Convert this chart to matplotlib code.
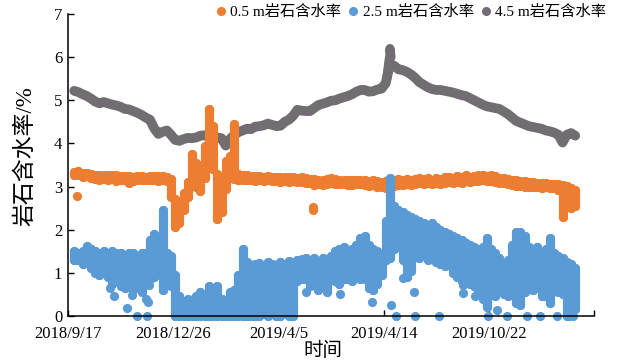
import numpy as np
import matplotlib.pyplot as plt
from matplotlib.lines import Line2D

plt.rcParams['font.family'] = ['Liberation Serif', 'Noto Sans CJK SC']

# days since 2018/9/17, one reading group every 4 days
days = np.arange(6, 483, 4)

tick_days = [0, 100, 200, 300, 400, 500]
tick_labels = ['2018/9/17', '2018/12/26', '2019/4/5', '2019/4/14', '2019/10/22', '']

# 4.5 m
gray_vals = [
    5.22, 5.19, 5.14, 5.10, 5.04, 4.97, 4.93, 4.96, 4.93, 4.90,
    4.88, 4.85, 4.80, 4.79, 4.75, 4.71, 4.66, 4.60, 4.55, 4.35,
    4.22, 4.27, 4.30, 4.20, 4.08, 4.06, 4.10, 4.13, 4.12, 4.14,
    4.18, 4.19, 4.15, 4.18, 4.14, 4.12, 3.95, 4.10, 4.20, 4.26,
    4.30, 4.34, 4.33, 4.39, 4.40, 4.42, 4.46, 4.43, 4.40, 4.41,
    4.50, 4.55, 4.64, 4.78, 4.76, 4.75, 4.75, 4.82, 4.89, 4.92,
    4.95, 4.99, 5.00, 5.04, 5.07, 5.10, 5.14, 5.20, 5.24, 5.24,
    5.20, 5.21, 5.25, 5.27, 5.40, 5.85, 5.80, 5.72, 5.70, 5.66,
    5.60, 5.52, 5.42, 5.36, 5.30, 5.26, 5.24, 5.24, 5.22, 5.20,
    5.18, 5.15, 5.12, 5.10, 5.05, 5.00, 4.95, 4.90, 4.86, 4.84,
    4.82, 4.80, 4.74, 4.68, 4.60, 4.52, 4.48, 4.44, 4.40, 4.38,
    4.36, 4.34, 4.30, 4.28, 4.25, 4.20, 4.02, 4.20, 4.24, 4.18,
]
gray_spike_days = [303, 304, 305, 306, 306, 307]
gray_spike_vals = [5.50, 5.70, 5.90, 6.05, 6.20, 6.00]

# 0.5 m, daily low / high
orange_lo = [
    3.26, 3.26, 3.23, 3.24, 3.20, 3.18, 3.16, 3.18, 3.16, 3.18,
    3.13, 3.14, 3.16, 3.08, 3.13, 3.14, 3.16, 3.14, 3.16, 3.14,
    3.13, 3.14, 3.12, 2.75, 2.05, 2.15, 2.45, 2.75, 3.20, 3.00,
    2.90, 3.20, 3.80, 3.40, 2.25, 2.40, 2.95, 3.20, 3.18, 3.16,
    3.16, 3.14, 3.16, 3.13, 3.14, 3.12, 3.14, 3.13, 3.12, 3.10,
    3.12, 3.10, 3.12, 3.10, 3.10, 3.08, 3.08, 3.04, 3.06, 3.04,
    3.06, 3.08, 3.06, 3.06, 3.05, 3.04, 3.04, 3.06, 3.05, 3.04,
    3.02, 3.04, 3.00, 2.98, 2.96, 2.98, 3.02, 3.04, 3.03, 3.06,
    3.04, 3.06, 3.08, 3.06, 3.08, 3.06, 3.08, 3.06, 3.08, 3.10,
    3.08, 3.10, 3.08, 3.12, 3.10, 3.12, 3.13, 3.14, 3.12, 3.13,
    3.10, 3.08, 3.08, 3.06, 3.04, 3.02, 3.02, 3.00, 3.00, 2.98,
    2.98, 2.96, 2.98, 2.96, 2.96, 2.93, 2.30, 2.80, 2.50, 2.55,
]
orange_hi = [
    3.34, 3.36, 3.32, 3.32, 3.30, 3.27, 3.26, 3.26, 3.27, 3.26,
    3.27, 3.24, 3.24, 3.24, 3.22, 3.24, 3.24, 3.22, 3.24, 3.24,
    3.24, 3.24, 3.22, 3.18, 2.70, 2.60, 2.85, 3.10, 3.75, 3.55,
    3.30, 3.95, 4.80, 4.40, 3.30, 3.15, 3.60, 3.70, 4.45, 3.30,
    3.26, 3.26, 3.24, 3.24, 3.24, 3.22, 3.24, 3.22, 3.22, 3.22,
    3.22, 3.22, 3.22, 3.20, 3.22, 3.20, 3.18, 3.18, 3.16, 3.16,
    3.18, 3.20, 3.18, 3.16, 3.16, 3.14, 3.14, 3.16, 3.16, 3.16,
    3.12, 3.14, 3.12, 3.10, 3.12, 3.14, 3.16, 3.18, 3.16, 3.18,
    3.16, 3.18, 3.20, 3.18, 3.20, 3.16, 3.20, 3.18, 3.22, 3.22,
    3.20, 3.24, 3.22, 3.26, 3.22, 3.24, 3.26, 3.26, 3.24, 3.26,
    3.24, 3.20, 3.20, 3.18, 3.16, 3.14, 3.12, 3.12, 3.10, 3.10,
    3.08, 3.08, 3.08, 3.07, 3.06, 3.06, 3.04, 3.02, 2.97, 2.92,
]
orange_out_days = [9, 233, 233]
orange_out_vals = [2.77, 2.52, 2.46]

# 2.5 m, daily low / high
blue_lo = [
    1.30, 1.30, 1.20, 1.25, 1.10, 1.00, 0.95, 1.00, 0.90, 0.75,
    0.80, 0.70, 0.65, 0.70, 0.60, 0.75, 0.55, 0.80, 0.85, 0.90,
    1.00, 0.60, 0.85, 0.70, 0.00, 0.00, 0.00, 0.00, 0.00, 0.00,
    0.00, 0.00, 0.00, 0.00, 0.00, 0.00, 0.00, 0.00, 0.00, 0.00,
    0.00, 0.00, 0.00, 0.00, 0.00, 0.05, 0.00, 0.10, 0.00, 0.00,
    0.10, 0.00, 0.00, 0.80, 0.85, 0.85, 0.70, 0.80, 0.60, 0.75,
    0.55, 0.85, 0.80, 0.75, 0.85, 0.85, 0.80, 0.90, 0.85, 0.85,
    0.65, 0.60, 0.75, 0.95, 1.30, 1.35, 1.55, 1.60, 1.30, 0.90,
    1.05, 1.40, 1.35, 1.40, 1.30, 1.35, 1.25, 1.20, 1.15, 1.20,
    1.00, 0.90, 0.80, 0.85, 0.75, 0.70, 0.55, 0.40, 0.20, 0.50,
    0.45, 0.60, 0.50, 0.45, 0.55, 0.30, 0.25, 0.55, 0.70, 0.60,
    0.80, 0.45, 0.60, 0.30, 0.65, 0.55, 0.50, 0.00, 0.10, 0.15,
]
blue_hi = [
    1.50, 1.45, 1.50, 1.62, 1.55, 1.50, 1.45, 1.50, 1.45, 1.50,
    1.45, 1.45, 1.40, 1.45, 1.45, 1.40, 1.45, 1.45, 1.75, 1.90,
    1.80, 2.45, 1.45, 1.40, 0.95, 0.45, 0.35, 0.40, 0.35, 0.45,
    0.55, 0.40, 0.70, 0.45, 0.70, 0.40, 0.35, 0.55, 0.60, 0.95,
    1.55, 1.25, 1.15, 1.20, 1.22, 1.15, 1.25, 1.20, 1.15, 1.25,
    1.20, 1.28, 1.20, 1.30, 1.32, 1.35, 1.30, 1.35, 1.28, 1.35,
    1.30, 1.40, 1.50, 1.55, 1.60, 1.50, 1.55, 1.65, 1.80, 1.85,
    1.65, 1.55, 1.50, 1.40, 2.20, 3.20, 2.55, 2.45, 2.40, 2.35,
    2.30, 2.25, 2.20, 2.15, 2.10, 2.15, 2.05, 2.00, 1.95, 1.90,
    1.85, 1.80, 1.75, 1.70, 1.65, 1.60, 1.55, 1.60, 1.80, 1.55,
    1.45, 1.35, 1.20, 1.30, 1.65, 1.95, 1.95, 1.85, 1.60, 1.55,
    1.60, 1.40, 1.55, 1.80, 1.45, 1.40, 1.35, 1.25, 1.20, 1.10,
]
blue_out_days = [40, 44, 56, 61, 66, 75, 74, 76, 77, 226, 240, 259, 289, 288,
                 307, 312, 318, 329, 330, 353, 375, 375, 387, 399, 408, 417,
                 436, 442, 449, 453, 465, 476, 480]
blue_out_vals = [0.65, 0.45, 0.19, 0.49, 0.00, 0.00, 0.40, 0.33, 0.72, 0.55,
                 0.68, 0.50, 0.33, 0.68, 0.26, 0.00, 0.88, 0.56, 0.00, 0.00,
                 0.72, 0.53, 0.45, 0.00, 0.13, 0.00, 0.00, 0.68, 0.00, 0.45,
                 0.00, 0.00, 0.00]

c_orange = '#ED7D31'
c_blue = '#5B9BD5'
c_gray = '#716D72'

dot = 6.6  # marker diameter in points

fig = plt.figure(figsize=(6.17, 3.61), dpi=100)
ax = fig.add_axes([0.110, 0.125, 0.853, 0.836])


def draw_band(lo, hi, color, z):
    # readings of one group spread from lo to hi
    ax.vlines(days, lo, hi, colors=color, linewidth=dot, capstyle='round',
              zorder=z, clip_on=False)
    ax.scatter(days, lo, s=dot ** 2, color=color, lw=0, zorder=z, clip_on=False)
    ax.scatter(days, hi, s=dot ** 2, color=color, lw=0, zorder=z, clip_on=False)


# gray readings sit close together, so join them into one thick trace
ax.plot(days, gray_vals, color=c_gray, lw=dot + 0.4, solid_capstyle='round',
        solid_joinstyle='round', zorder=2)
ax.plot(gray_spike_days, gray_spike_vals, color=c_gray, lw=dot,
        solid_capstyle='round', zorder=2)

draw_band(orange_lo, orange_hi, c_orange, 3)
ax.scatter(orange_out_days, orange_out_vals, s=dot ** 2, color=c_orange, lw=0, zorder=3)

draw_band(blue_lo, blue_hi, c_blue, 4)
ax.scatter(blue_out_days, blue_out_vals, s=dot ** 2, color=c_blue, lw=0, zorder=4,
           clip_on=False)

ax.set_xlim(0, 500)
ax.set_ylim(0, 7)
ax.set_xticks(tick_days)
ax.set_xticklabels(tick_labels)
ax.set_yticks(range(8))
ax.tick_params(direction='in', length=4, width=1, labelsize=12)
ax.tick_params(axis='x', pad=7)
ax.tick_params(axis='y', pad=4)
for side in ['top', 'right']:
    ax.spines[side].set_visible(False)
for side in ['left', 'bottom']:
    ax.spines[side].set_linewidth(1.1)
    ax.spines[side].set_zorder(5)

ax.set_xlabel('时间', fontsize=14)
ax.xaxis.set_label_coords(0.485, -0.085)
ax.set_ylabel('岩石含水率/%', fontsize=16.5)
ax.yaxis.set_label_coords(-0.06, 0.53)

handles = [Line2D([], [], marker='o', ls='none', color=c, markersize=5.5)
           for c in (c_orange, c_blue, c_gray)]
fig.legend(handles, ['0.5 m岩石含水率', '2.5 m岩石含水率', '4.5 m岩石含水率'],
           loc='upper right', bbox_to_anchor=(0.982, 0.985), ncol=3, frameon=False,
           fontsize=11, handletextpad=0.1, columnspacing=0.3, handlelength=1.0,
           borderaxespad=0, borderpad=0)

fig.savefig('out.png', dpi=100)
